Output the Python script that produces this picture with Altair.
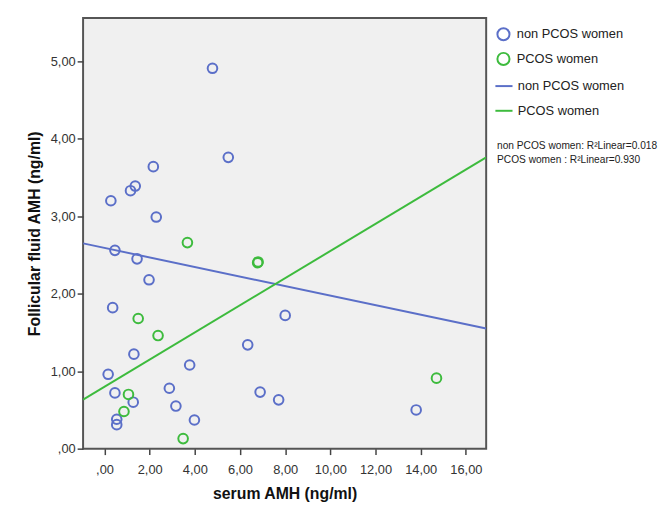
import altair as alt
import pandas as pd

non_pcos_x = [4.78, 5.48, 2.16, 1.36, 1.15, 0.28, 2.29, 0.46, 1.44, 1.97, 0.36, 8.00, 6.34,
              1.30, 3.77, 0.16, 2.87, 6.89, 0.46, 7.71, 1.27, 3.16, 3.98, 0.54, 0.54, 13.80]
non_pcos_y = [4.91, 3.76, 3.64, 3.39, 3.33, 3.20, 2.99, 2.56, 2.45, 2.18, 1.82, 1.72, 1.34,
              1.22, 1.08, 0.96, 0.78, 0.73, 0.72, 0.63, 0.60, 0.55, 0.37, 0.38, 0.31, 0.50]
pcos_x = [3.67, 6.78, 6.80, 1.49, 2.37, 1.06, 0.86, 3.48, 14.70]
pcos_y = [2.66, 2.40, 2.41, 1.68, 1.46, 0.70, 0.48, 0.13, 0.91]

# Fit lines (endpoints)
fit_x = [-0.95, 16.9]
fit_non_pcos_y = [2.65, 1.55]
fit_pcos_y = [0.634, 3.76]

groups = ["non PCOS women", "PCOS women"]
colors = ["#5b6fc8", "#3dbb3d"]
r2_lines = ["non PCOS women: R\u00b2Linear=0.018", "PCOS women : R\u00b2Linear=0.930"]

pts = pd.DataFrame({
    "x": non_pcos_x + pcos_x,
    "y": non_pcos_y + pcos_y,
    "group": [groups[0]] * len(non_pcos_x) + [groups[1]] * len(pcos_x),
})
fits = pd.DataFrame({
    "x": fit_x + fit_x,
    "y": fit_non_pcos_y + fit_pcos_y,
    "fit": [groups[0]] * 2 + [groups[1]] * 2,
})
notes = pd.DataFrame({"t": ["\n".join(r2_lines)]})

FONT = "Liberation Sans"

x_scale = alt.Scale(domain=[-0.95, 16.9], nice=False, zero=False)
y_scale = alt.Scale(domain=[0, 5.56], nice=False, zero=False)

label_expr = "datum.value == 0 ? ',00' : replace(format(datum.value, '.2f'), '.', ',')"

x_axis = alt.Axis(values=list(range(0, 17, 2)), labelExpr=label_expr, title="serum AMH (ng/ml)",
                  grid=False, domain=False, tickSize=6, tickWidth=1.5, tickColor="#444",
                  labelFont=FONT, labelFontSize=13, labelColor="#333", labelPadding=9,
                  titleFont=FONT, titleFontSize=16, titleFontWeight="bold", titleColor="#111",
                  titlePadding=9)
y_axis = alt.Axis(values=[0, 1, 2, 3, 4, 5], labelExpr=label_expr,
                  title="Follicular fluid AMH (ng/ml)",
                  grid=False, domain=False, tickSize=6, tickWidth=1.5, tickColor="#444",
                  labelFont=FONT, labelFontSize=13, labelColor="#333", labelPadding=2,
                  titleFont=FONT, titleFontSize=16, titleFontWeight="bold", titleColor="#111",
                  titlePadding=8)

points = alt.Chart(pts).mark_point(filled=False, size=95, strokeWidth=2, opacity=1).encode(
    x=alt.X("x:Q", scale=x_scale, axis=x_axis),
    y=alt.Y("y:Q", scale=y_scale, axis=y_axis),
    color=alt.Color("group:N", scale=alt.Scale(domain=groups, range=colors),
                    legend=alt.Legend(title=None, orient="none", legendX=418, legendY=9,
                                      symbolType="circle", symbolSize=150, symbolStrokeWidth=2,
                                      labelFont=FONT, labelFontSize=13, labelColor="#222",
                                      rowPadding=4, labelOffset=6)),
)

lines = alt.Chart(fits).mark_line(strokeWidth=2, clip=True).encode(
    x=alt.X("x:Q", scale=x_scale),
    y=alt.Y("y:Q", scale=y_scale),
    color=alt.Color("fit:N", scale=alt.Scale(domain=groups, range=colors),
                    legend=alt.Legend(title=None, orient="none", legendX=416, legendY=59,
                                      symbolType="stroke", symbolStrokeWidth=2, symbolSize=300,
                                      labelFont=FONT, labelFontSize=13, labelColor="#222",
                                      rowPadding=8, labelOffset=4)),
)

note = alt.Chart(notes).mark_text(align="left", baseline="middle", font=FONT, fontSize=10.3,
                                  lineHeight=14, lineBreak="\n", color="#222").encode(
    x=alt.value(419),
    y=alt.value(130),
    text="t:N",
)

chart = alt.layer(points, lines, note).resolve_scale(color="independent").properties(
    width=408, height=436,
    autosize=alt.AutoSizeParams(type="none"),
    padding={"left": 76, "top": 7, "right": 180, "bottom": 56},
).configure_view(fill="#f0f0f0", stroke="#555", strokeWidth=2)

chart.save("out.html", embed_options={"renderer": "svg", "actions": False})
